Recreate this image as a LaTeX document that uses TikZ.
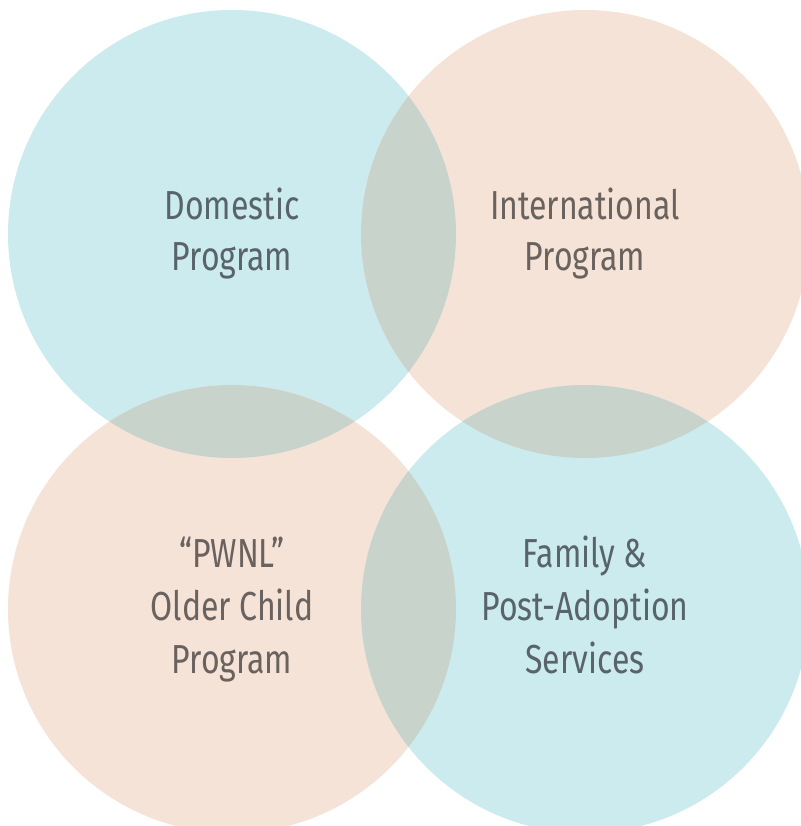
\documentclass[tikz,border=0pt]{standalone}
\usepackage{fontspec}
\setmainfont{Fira Sans}[FakeStretch=0.79]
\definecolor{cblue}{HTML}{CCEBEE}
\definecolor{cpeach}{HTML}{F5E3D7}
\definecolor{cmix}{HTML}{C8D4CB}
\definecolor{tblue}{HTML}{58646A}
\definecolor{tpeach}{HTML}{6A625E}
\tikzset{
  lbl/.style={anchor=base, inner sep=0pt, font=\fontsize{40.5bp}{51bp}\selectfont},
  lblb/.style={lbl, text=tblue},
  lblp/.style={lbl, text=tpeach}
}
\begin{document}
\begin{tikzpicture}[x=1bp,y=-1bp]
\useasboundingbox (0,0) rectangle (801,826);
\fill[white] (0,0) rectangle (801,826);
\begin{scope}
\clip (0,0) rectangle (801,826);
\def\R{224}
\coordinate (tl) at (232,234);
\coordinate (tr) at (585,234);
\coordinate (bl) at (232,609);
\coordinate (br) at (585,609);
\fill[cblue] (tl) circle[radius=\R];
\fill[cpeach] (tr) circle[radius=\R];
\fill[cpeach] (bl) circle[radius=\R];
\fill[cblue] (br) circle[radius=\R];
\begin{scope}\clip (tl) circle[radius=\R]; \fill[cmix] (tr) circle[radius=\R]; \fill[cmix] (bl) circle[radius=\R];\end{scope}
\begin{scope}\clip (br) circle[radius=\R]; \fill[cmix] (tr) circle[radius=\R]; \fill[cmix] (bl) circle[radius=\R];\end{scope}
\end{scope}
\node[lblb] (d1) at (232,219) {Domestic};
\node[lblb] (d2) at (232,270) {Program};
\node[lblp] (i1) at (585,219) {International};
\node[lblp] (i2) at (585,270) {Program};
\node[lblp] (p1) at (232,567) {“PWNL”};
\node[lblp] (p2) at (232,620) {Older Child};
\node[lblp] (p3) at (232,673) {Program};
\node[lblb] (f1) at (585,567) {Family \&};
\node[lblb] (f2) at (585,620) {Post-Adoption};
\node[lblb] (f3) at (585,673) {Services};
\end{tikzpicture}
\end{document}
